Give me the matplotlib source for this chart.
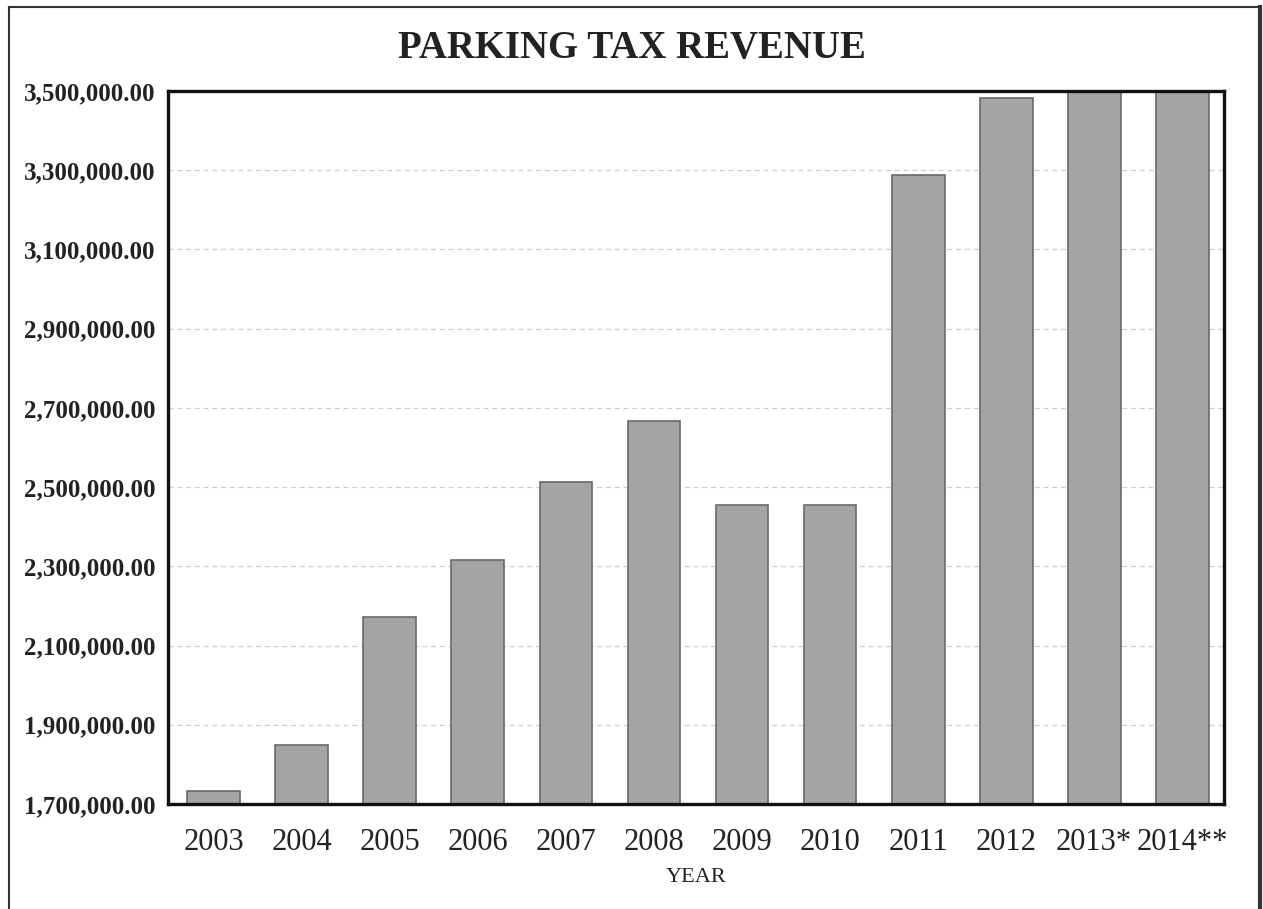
import matplotlib.pyplot as plt
from matplotlib.lines import Line2D
from matplotlib.ticker import FuncFormatter
import numpy as np

# parking tax revenue by year (2013/2014 are estimates)
years = ['2003', '2004', '2005', '2006', '2007', '2008',
         '2009', '2010', '2011', '2012', '2013*', '2014**']
revenue = [1733000, 1849000, 2171000, 2315000, 2512000, 2668000,
           2456000, 2456000, 3288000, 3482000, 3560000, 3600000]
y_ticks = [1700000, 1900000, 2100000, 2300000, 2500000,
           2700000, 2900000, 3100000, 3300000, 3500000]

plt.rcParams['font.family'] = ['Liberation Serif', 'DejaVu Serif']

fig = plt.figure(figsize=(12.63, 9.09), dpi=100)
ax = fig.add_axes([0.133, 0.1155, 0.8365, 0.7845])

x = np.arange(len(years))
ax.bar(x, revenue, width=0.6, color='#a4a4a4', edgecolor='#6a6a6a',
       linewidth=1.2, zorder=2)

ax.set_ylim(1700000, 3500000)
ax.set_xlim(-0.52, 11.48)
ax.set_yticks(y_ticks)
ax.yaxis.set_major_formatter(FuncFormatter(lambda v, p: f'{v:,.2f}'))
ax.grid(axis='y', color='#cfcfcf', linestyle=(0, (4, 3)), linewidth=0.9, zorder=0)

ax.set_xticks(x)
ax.set_xticklabels(years, fontsize=22)
ax.tick_params(axis='x', length=0, pad=17, colors='#222222')
ax.tick_params(axis='y', length=0, pad=9, labelsize=18, colors='#222222')
for lbl in ax.get_yticklabels():
    lbl.set_fontweight('bold')

for side in ['left', 'right', 'top', 'bottom']:
    ax.spines[side].set_linewidth(2.4)
    ax.spines[side].set_color('#111111')

ax.set_xlabel('YEAR', fontsize=16, color='#222222', labelpad=8)

fig.text(0.5, 0.947, 'PARKING TAX REVENUE', ha='center', va='center',
         fontsize=28, fontweight='bold', color='#222222')

# outer frame around the chart
frame_kw = dict(transform=fig.transFigure, color='#333333')
fig.add_artist(Line2D([0.007, 0.007], [0.0, 0.992], linewidth=1.5, **frame_kw))
fig.add_artist(Line2D([0.007, 0.998], [0.992, 0.992], linewidth=1.5, **frame_kw))
fig.add_artist(Line2D([0.9975, 0.9975], [0.0, 0.992], linewidth=3, **frame_kw))

fig.savefig('out.png', dpi=100)
